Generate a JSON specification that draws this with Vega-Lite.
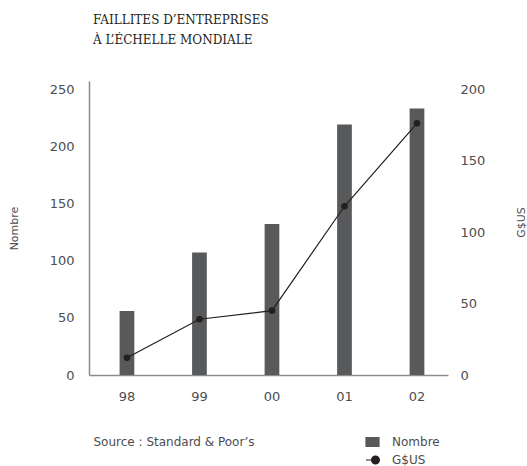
{
  "$schema": "https://vega.github.io/schema/vega-lite/v6.json",
  "width": 359,
  "height": 294,
  "autosize": "none",
  "padding": {"left": 89, "top": 81, "right": 79, "bottom": 91},
  "background": "white",
  "title": {
    "text": ["FAILLITES D’ENTREPRISES", "À L’ÉCHELLE MONDIALE"],
    "anchor": "start",
    "frame": "group",
    "font": "DejaVu Serif",
    "fontSize": 12,
    "fontWeight": "normal",
    "color": "#231f20",
    "lineHeight": 20.5,
    "offset": 34,
    "dx": 4
  },
  "data": {
    "values": [
      {"year": "98", "series": "Nombre", "value": 56},
      {"year": "99", "series": "Nombre", "value": 107},
      {"year": "00", "series": "Nombre", "value": 132},
      {"year": "01", "series": "Nombre", "value": 219},
      {"year": "02", "series": "Nombre", "value": 233},
      {"year": "98", "series": "G$US", "value": 12},
      {"year": "99", "series": "G$US", "value": 39},
      {"year": "00", "series": "G$US", "value": 45},
      {"year": "01", "series": "G$US", "value": 118},
      {"year": "02", "series": "G$US", "value": 176}
    ]
  },
  "encoding": {
    "x": {
      "field": "year",
      "type": "nominal",
      "sort": ["98", "99", "00", "01", "02"],
      "scale": {"paddingInner": 0.797, "paddingOuter": 0.374, "align": 0.564},
      "axis": {
        "labelAngle": 0,
        "labelPadding": 15,
        "labelFontSize": 13,
        "title": "Source : Standard & Poor’s",
        "titleX": 4,
        "titleY": 66,
        "titleAlign": "left",
        "titleBaseline": "middle",
        "titleFontSize": 12,
        "titleFontWeight": "normal",
        "titleColor": "#4d4d4f"
      }
    },
    "color": {
      "field": "series",
      "type": "nominal",
      "scale": {"domain": ["Nombre", "G$US"], "range": ["#58595b", "#231f20"]},
      "legend": {
        "title": null,
        "orient": "none",
        "legendX": 276,
        "legendY": 353.5,
        "padding": 0,
        "symbolSize": 169,
        "labelFontSize": 12,
        "labelColor": "#4d4d4f",
        "labelOffset": 12,
        "rowPadding": 3,
        "encode": {
          "symbols": {
            "update": {
              "shape": {"signal": "datum.value === 'Nombre' ? 'M-1,-0.69H1V0.69H-1Z' : 'M-1,0H0.2M1.06,0A0.6,0.6 0 1 1 -0.14,0A0.6,0.6 0 1 1 1.06,0Z'"},
              "fill": {"scale": "color", "field": "value"},
              "stroke": {"scale": "color", "field": "value"},
              "strokeWidth": {"value": 1.2},
              "opacity": {"value": 1}
            }
          }
        }
      }
    }
  },
  "layer": [
    {
      "transform": [{"filter": "datum.series === 'Nombre'"}],
      "mark": {"type": "bar"},
      "encoding": {
        "y": {
          "field": "value",
          "type": "quantitative",
          "scale": {"domain": [0, 257], "nice": false},
          "axis": {
            "orient": "left",
            "values": [0, 50, 100, 150, 200, 250],
            "labelPadding": 15,
            "labelFontSize": 13,
            "title": "Nombre",
            "titleX": -75,
            "titleY": 147,
            "titleAngle": 270,
            "titleAlign": "center",
            "titleBaseline": "middle",
            "titleFontSize": 11,
            "titleFontWeight": "normal",
            "titleColor": "#4d4d4f"
          }
        }
      }
    },
    {
      "transform": [{"filter": "datum.series === 'G$US'"}],
      "mark": {
        "type": "line",
        "strokeWidth": 1.2,
        "point": {"filled": true, "size": 44, "color": "#231f20"}
      },
      "encoding": {
        "y": {
          "field": "value",
          "type": "quantitative",
          "scale": {"domain": [0, 205.6], "nice": false},
          "axis": {
            "orient": "right",
            "domain": false,
            "values": [0, 50, 100, 150, 200],
            "labelPadding": 12,
            "labelFontSize": 13,
            "title": "G$US",
            "titleX": 73,
            "titleY": 141,
            "titleAngle": 270,
            "titleAlign": "center",
            "titleBaseline": "middle",
            "titleFontSize": 11,
            "titleFontWeight": "normal",
            "titleColor": "#4d4d4f"
          }
        }
      }
    }
  ],
  "resolve": {"scale": {"y": "independent"}},
  "config": {
    "view": {"stroke": null},
    "font": "DejaVu Sans",
    "axis": {
      "grid": false,
      "ticks": false,
      "domainColor": "#8c8c8c",
      "domainWidth": 1.5,
      "labelColor": "#4d4d4f",
      "labelFont": "DejaVu Sans",
      "titleFont": "DejaVu Sans"
    },
    "legend": {"labelFont": "DejaVu Sans"}
  }
}
